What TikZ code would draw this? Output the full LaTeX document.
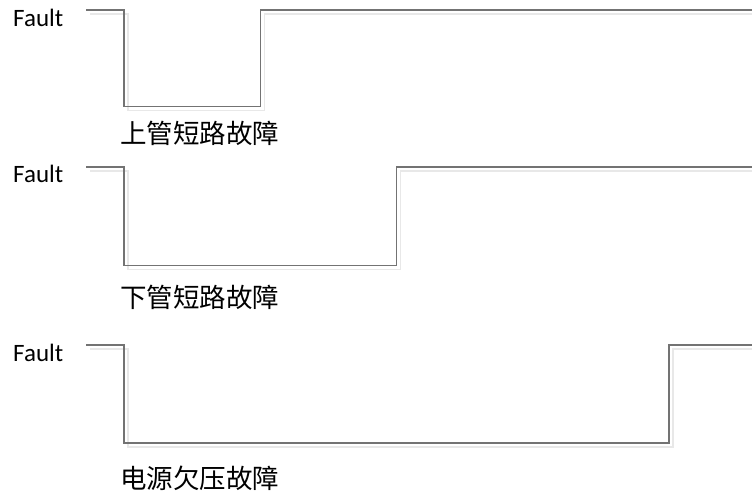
\documentclass[tikz,border=0pt]{standalone}
\usepackage{fontspec}
\setmainfont{Carlito}
\newfontfamily\cjk{Noto Sans CJK SC}

\begin{document}
\begin{tikzpicture}[x=1pt, y=-1pt,
	wave/.style={draw=black!55, line width=1.2pt},
	shade/.style={draw=black!9, line width=1.4pt},
	sig/.style={anchor=base west, inner sep=0pt, font=\fontsize{25}{25}\selectfont},
	fname/.style={anchor=west, inner sep=0pt, font=\cjk\fontsize{26.5}{26.5}\selectfont}]
		\useasboundingbox (0,0) rectangle (752,497);
		
		% shadows
		\draw[shade, shift={(4,4)}] (86,10) -- (124,10) -- (124,106.5) -- (260.5,106.5) -- (260.5,10) -- (760,10);
		\draw[shade, shift={(4,4)}] (86,167) -- (124,167) -- (124,265.5) -- (396.5,265.5) -- (396.5,167) -- (760,167);
		\draw[shade, shift={(4,4)}] (86,345) -- (124,345) -- (124,443) -- (669,443) -- (669,345) -- (760,345);
		
		% waveforms
		\draw[wave] (86,10) -- (124,10) -- (124,106.5) -- (260.5,106.5) -- (260.5,10) -- (760,10);
		\draw[wave] (86,167) -- (124,167) -- (124,265.5) -- (396.5,265.5) -- (396.5,167) -- (760,167);
		\draw[wave] (86,345) -- (124,345) -- (124,443) -- (669,443) -- (669,345) -- (760,345);
		
		\node[sig] (f1) at (13,27) {Fault};
		\node[sig] (f2) at (13,183) {Fault};
		\node[sig] (f3) at (13,361) {Fault};
		
		\node[fname] (n1) at (120,133) {上管短路故障};
		\node[fname] (n2) at (120,297) {下管短路故障};
		\node[fname] (n3) at (120,478) {电源欠压故障};
		
	\end{tikzpicture}
\end{document}
